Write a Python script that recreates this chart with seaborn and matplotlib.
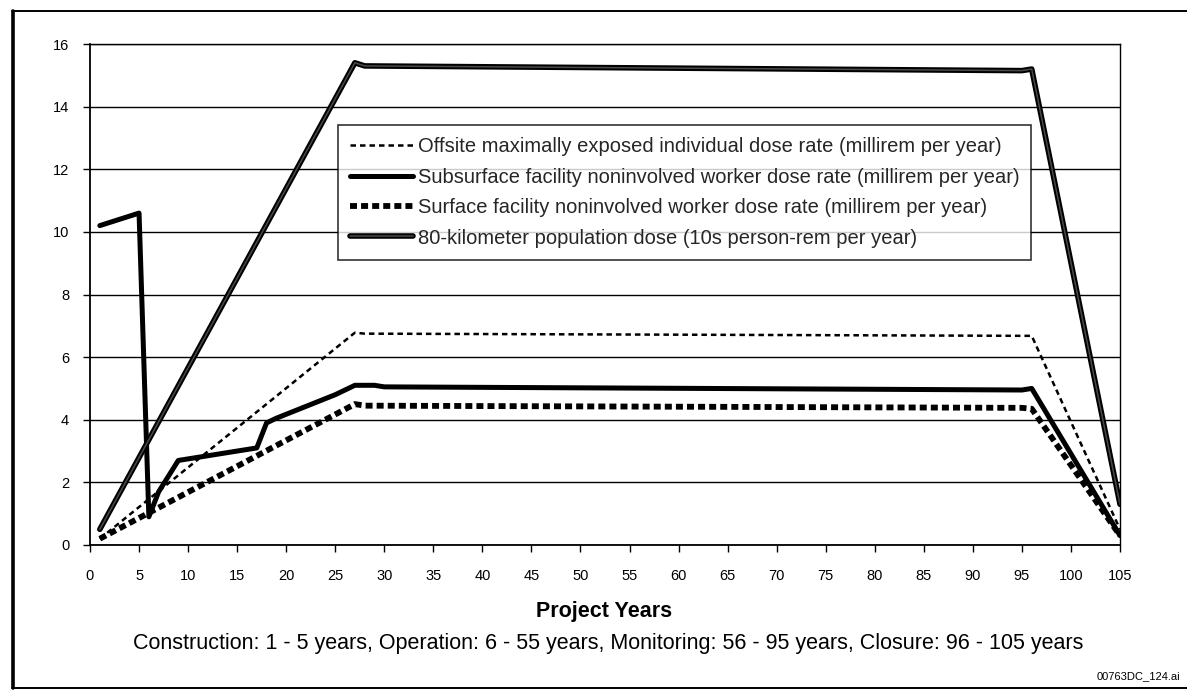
import matplotlib
matplotlib.use("Agg")
import matplotlib.pyplot as plt
import matplotlib.patheffects as pe
from matplotlib.lines import Line2D
import seaborn as sns
import pandas as pd

# Vertices of each dose series (project year, value)
offsite_years = [1, 27, 28, 95, 96, 105]
offsite_dose = [0.2, 6.78, 6.75, 6.68, 6.68, 0.5]

subsurface_years = [1, 5, 6, 7, 9, 10, 17, 18, 19, 21, 23, 25, 27, 29, 30, 95, 96, 105]
subsurface_dose = [10.2, 10.6, 0.9, 1.7, 2.7, 2.75, 3.1, 3.9, 4.05, 4.3, 4.55, 4.8, 5.1, 5.1, 5.05, 4.95, 5.0, 0.3]

surface_years = [1, 27, 28, 95, 96, 105]
surface_dose = [0.2, 4.5, 4.45, 4.38, 4.35, 0.3]

population_years = [1, 27, 28, 95, 96, 105]
population_dose = [0.5, 15.4, 15.3, 15.15, 15.2, 1.3]

labels = [
    "Offsite maximally exposed individual dose rate (millirem per year)",
    "Subsurface facility noninvolved worker dose rate (millirem per year)",
    "Surface facility noninvolved worker dose rate (millirem per year)",
    "80-kilometer population dose (10s person-rem per year)",
]
x_ticks = list(range(0, 106, 5))
y_ticks = list(range(0, 17, 2))

sns.set_theme(style="white")
plt.rcParams["font.family"] = ["Liberation Sans", "DejaVu Sans"]

W, H = 1187, 692
fig = plt.figure(figsize=(W / 100, H / 100), dpi=100)
ax = fig.add_axes([90 / W, 1 - 545 / H, 1030 / W, 501 / H])

df_off = pd.DataFrame({"year": offsite_years, "dose": offsite_dose})
df_sub = pd.DataFrame({"year": subsurface_years, "dose": subsurface_dose})
df_surf = pd.DataFrame({"year": surface_years, "dose": surface_dose})
df_pop = pd.DataFrame({"year": population_years, "dose": population_dose})

sns.lineplot(data=df_off, x="year", y="dose", ax=ax, sort=False, color="black",
             linewidth=1.8, linestyle=(0, (2.2, 1.6)), label=labels[0], legend=False)
sns.lineplot(data=df_sub, x="year", y="dose", ax=ax, sort=False, color="black",
             linewidth=3.6, linestyle="-", label=labels[1], legend=False,
             solid_joinstyle="round")
sns.lineplot(data=df_surf, x="year", y="dose", ax=ax, sort=False, color="black",
             linewidth=4.2, linestyle=(0, (1.2, 0.7)), label=labels[2], legend=False)
sns.lineplot(data=df_pop, x="year", y="dose", ax=ax, sort=False, color="#4a4a4a",
             linewidth=1.1, linestyle="-", label=labels[3], legend=False,
             path_effects=[pe.Stroke(linewidth=4.0, foreground="black"), pe.Normal()])

ax.set_xlim(0, 105)
ax.set_ylim(0, 16)
ax.set_xticks(x_ticks)
ax.set_yticks(y_ticks)
ax.set_xlabel("")
ax.set_ylabel("")
ax.yaxis.grid(True, color="black", linewidth=1.0)
ax.xaxis.grid(False)
ax.set_axisbelow(True)
for side in ["left", "bottom", "right", "top"]:
    ax.spines[side].set_visible(True)
    ax.spines[side].set_color("black")
    ax.spines[side].set_linewidth(1.0)
ax.spines["left"].set_linewidth(1.3)
ax.spines["bottom"].set_linewidth(1.3)
ax.tick_params(axis="both", direction="out", length=5, width=1, color="black",
               labelsize=10.5, labelcolor="black", bottom=True, left=True)
ax.tick_params(axis="x", pad=12)
ax.tick_params(axis="y", pad=10)

handles, _ = ax.get_legend_handles_labels()
leg = ax.legend(handles, labels, loc="upper left", bbox_to_anchor=((338 - 90) / 1030, (545 - 125) / 501),
                borderaxespad=0, frameon=True, fancybox=False, edgecolor="black",
                fontsize=14.5, handlelength=3.1, handletextpad=0.25, labelspacing=0.57,
                borderpad=0.6)
leg.get_frame().set_linewidth(1.2)

fig.text(604 / W, 1 - 611 / H, "Project Years", ha="center", va="center",
         fontsize=15.5, fontweight="bold", color="black")
fig.text(608 / W, 1 - 643 / H,
         "Construction: 1 - 5 years, Operation: 6 - 55 years, Monitoring: 56 - 95 years, Closure: 96 - 105 years",
         ha="center", va="center", fontsize=15.5, color="black")
fig.text(1180 / W, 1 - 676 / H, "00763DC_124.ai", ha="right", va="center",
         fontsize=8, color="black")

# Page frame around the figure
fig.add_artist(Line2D([13 / W, 13 / W], [1 - 11 / H, 1 - 688 / H], transform=fig.transFigure,
                      color="black", linewidth=2.6))
fig.add_artist(Line2D([12 / W, 1.01], [1 - 11 / H, 1 - 11 / H], transform=fig.transFigure,
                      color="black", linewidth=1.4))
fig.add_artist(Line2D([12 / W, 1.01], [1 - 688 / H, 1 - 688 / H], transform=fig.transFigure,
                      color="black", linewidth=1.4))

fig.savefig("out.png", dpi=100, facecolor="white")
